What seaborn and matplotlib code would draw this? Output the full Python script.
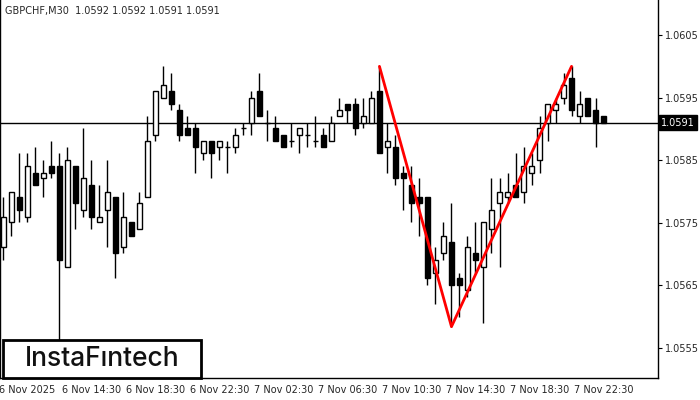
import numpy as np
import pandas as pd
import matplotlib
matplotlib.use('Agg')
import matplotlib.pyplot as plt
import seaborn as sns
from matplotlib.patches import Rectangle

# OHLC values (GBPCHF M30)
opens = [1.05712, 1.05751, 1.05791, 1.05760, 1.05830, 1.05821, 1.05840, 1.05840, 1.05680, 1.05840,
         1.05770, 1.05810, 1.05751, 1.05770, 1.05791, 1.05711, 1.05751, 1.05740, 1.05791, 1.05890,
         1.05950, 1.05960, 1.05930, 1.05901, 1.05901, 1.05861, 1.05881, 1.05871, 1.05871, 1.05871,
         1.05901, 1.05910, 1.05960, 1.05910, 1.05901, 1.05890, 1.05881, 1.05890, 1.05890, 1.05881,
         1.05890, 1.05881, 1.05921, 1.05940, 1.05940, 1.05910, 1.05910, 1.05960, 1.05871, 1.05871,
         1.05830, 1.05810, 1.05791, 1.05791, 1.05670, 1.05701, 1.05720, 1.05661, 1.05642, 1.05701,
         1.05680, 1.05740, 1.05781, 1.05791, 1.05810, 1.05800, 1.05830, 1.05850, 1.05910, 1.05930,
         1.05950, 1.05981, 1.05921, 1.05950, 1.05930, 1.05921]
highs = [1.05792, 1.05800, 1.05861, 1.05861, 1.05871, 1.05850, 1.05881, 1.05861, 1.05871, 1.05840,
         1.05901, 1.05850, 1.05810, 1.05850, 1.05791, 1.05800, 1.05751, 1.05800, 1.05921, 1.05960,
         1.06000, 1.05990, 1.05940, 1.05921, 1.05910, 1.05881, 1.05881, 1.05881, 1.05881, 1.05901,
         1.05910, 1.05960, 1.05990, 1.05930, 1.05921, 1.05890, 1.05910, 1.05901, 1.05910, 1.05921,
         1.05901, 1.05921, 1.05950, 1.05940, 1.05950, 1.05950, 1.05960, 1.06000, 1.05910, 1.05890,
         1.05840, 1.05840, 1.05821, 1.05791, 1.05711, 1.05751, 1.05781, 1.05670, 1.05729, 1.05751,
         1.05751, 1.05821, 1.05821, 1.05830, 1.05861, 1.05871, 1.05861, 1.05921, 1.05940, 1.05950,
         1.05990, 1.06000, 1.05960, 1.05950, 1.05950, 1.05921]
lows = [1.05691, 1.05729, 1.05751, 1.05751, 1.05810, 1.05791, 1.05821, 1.05563, 1.05680, 1.05740,
        1.05760, 1.05740, 1.05751, 1.05711, 1.05661, 1.05701, 1.05729, 1.05740, 1.05791, 1.05881,
        1.05950, 1.05930, 1.05881, 1.05890, 1.05830, 1.05850, 1.05821, 1.05850, 1.05830, 1.05861,
        1.05890, 1.05890, 1.05921, 1.05881, 1.05881, 1.05871, 1.05871, 1.05861, 1.05871, 1.05871,
        1.05871, 1.05881, 1.05921, 1.05910, 1.05890, 1.05901, 1.05910, 1.05861, 1.05830, 1.05810,
        1.05770, 1.05751, 1.05729, 1.05651, 1.05621, 1.05690, 1.05584, 1.05600, 1.05631, 1.05670,
        1.05590, 1.05701, 1.05680, 1.05781, 1.05791, 1.05781, 1.05810, 1.05830, 1.05881, 1.05910,
        1.05940, 1.05921, 1.05910, 1.05921, 1.05871, 1.05910]
closes = [1.05760, 1.05800, 1.05770, 1.05840, 1.05810, 1.05830, 1.05830, 1.05690, 1.05850, 1.05781,
          1.05821, 1.05760, 1.05760, 1.05800, 1.05701, 1.05760, 1.05729, 1.05781, 1.05881, 1.05960,
          1.05970, 1.05940, 1.05890, 1.05890, 1.05871, 1.05881, 1.05861, 1.05881, 1.05871, 1.05890,
          1.05901, 1.05950, 1.05921, 1.05910, 1.05881, 1.05871, 1.05881, 1.05901, 1.05890, 1.05881,
          1.05871, 1.05910, 1.05930, 1.05930, 1.05901, 1.05921, 1.05950, 1.05861, 1.05881, 1.05821,
          1.05821, 1.05781, 1.05781, 1.05661, 1.05690, 1.05729, 1.05651, 1.05651, 1.05711, 1.05690,
          1.05751, 1.05770, 1.05800, 1.05800, 1.05791, 1.05840, 1.05840, 1.05901, 1.05940, 1.05940,
          1.05970, 1.05930, 1.05940, 1.05921, 1.05910, 1.05910]

# double bottom pattern (bar index, price)
pattern_idx = [47, 56, 71]
pattern_price = [1.06000, 1.05584, 1.06000]

tick_pos = [3, 11, 19, 27, 35, 43, 51, 59, 67, 75]
tick_labels = ['6 Nov 2025', '6 Nov 14:30', '6 Nov 18:30', '6 Nov 22:30', '7 Nov 02:30',
               '7 Nov 06:30', '7 Nov 10:30', '7 Nov 14:30', '7 Nov 18:30', '7 Nov 22:30']
y_ticks = [1.0555, 1.0565, 1.0575, 1.0585, 1.0595, 1.0605]
last_price = 1.0591

df = pd.DataFrame({'open': opens, 'high': highs, 'low': lows, 'close': closes})
df['idx'] = np.arange(len(df))
df['bottom'] = df[['open', 'close']].min(axis=1)
df['height'] = (df['close'] - df['open']).abs()
df['up'] = df['close'] >= df['open']

sns.set_style('white')
plt.rcParams['font.family'] = ['DejaVu Sans']

fig = plt.figure(figsize=(7, 4), dpi=100)
ax = fig.add_axes([0.0, 0.055, 0.94, 0.945])

ax.vlines(df['idx'], df['low'], df['high'], color='black', linewidth=1, zorder=2)
for up, col in [(True, 'white'), (False, 'black')]:
    sub = df[df['up'] == up]
    ax.bar(sub['idx'], np.maximum(sub['height'], 0.000002), bottom=sub['bottom'], width=0.6,
           color=col, edgecolor='black', linewidth=1, zorder=3)

ax.axhline(last_price, color='black', linewidth=1, zorder=1)

sns.lineplot(x=pattern_idx, y=pattern_price, color='#ff0000', linewidth=2, ax=ax, zorder=4)

ax.set_xlim(-0.4, 81.8)
ax.set_ylim(1.05502, 1.06106)
ax.set_xticks(tick_pos)
ax.set_xticklabels(tick_labels, fontsize=7)
ax.yaxis.tick_right()
ax.set_yticks(y_ticks)
ax.set_yticklabels([f'{v:.4f}' for v in y_ticks], fontsize=7)
ax.tick_params(axis='both', length=3, color='black', pad=2)
for s in ['left', 'right', 'bottom']:
    ax.spines[s].set_color('black')
    ax.spines[s].set_linewidth(1)
ax.spines['top'].set_visible(False)

# current price label
ax.text(1.005, last_price, f'{last_price:.4f}', transform=ax.get_yaxis_transform(),
        fontsize=7, color='white', va='center', ha='left',
        bbox=dict(boxstyle='square,pad=0.25', fc='black', ec='black'), clip_on=False)

ax.text(0.008, 0.985, 'GBPCHF,M30  1.0592 1.0592 1.0591 1.0591', transform=ax.transAxes,
        fontsize=7, va='top', ha='left')

# logo box
fig.patches.append(Rectangle((3 / 700, 22 / 400), 198 / 700, 38 / 400, transform=fig.transFigure,
                             fc='white', ec='black', lw=2, zorder=5))
fig.text(102 / 700, 41 / 400, 'InstaFıntech', fontsize=19, ha='center', va='center', zorder=6,
         family=['Inter', 'DejaVu Sans'], weight='medium', color='#111111')

fig.savefig('out.png', dpi=100)
